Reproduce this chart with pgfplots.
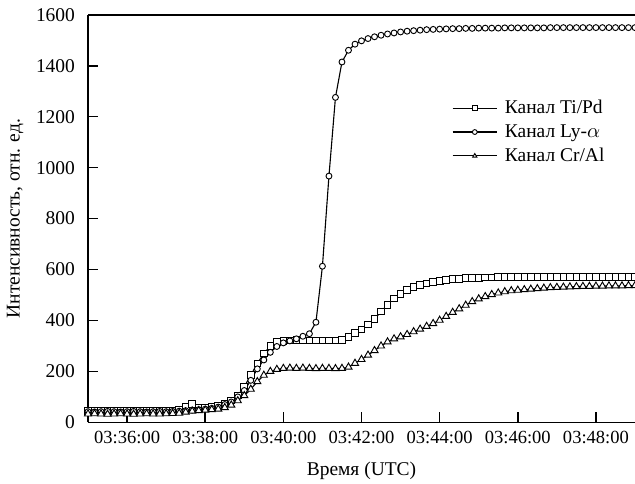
\documentclass[border=0pt]{standalone}
\usepackage{fontspec}
\setmainfont{Liberation Serif}
\usepackage{pgfplots}
\usepackage{pgfplotstable}
\pgfplotsset{compat=1.18}

\pgfplotstableread{
t tipd ly cral
0 45 42 33
10 44 41 34
20 46 42 33
30 45 43 32
40 44 42 33
50 46 41 34
60 45 42 33
70 44 43 32
80 45 42 33
90 46 41 34
100 45 42 33
110 44 43 33
120 45 42 34
130 46 43 35
140 50 44 36
150 62 46 40
160 72 48 44
170 56 50 46
180 58 52 48
190 62 55 50
200 66 60 52
210 74 70 58
220 86 80 68
230 105 100 85
240 140 125 105
250 185 165 130
260 231 210 160
270 270 245 185
280 300 275 200
290 315 298 208
300 320 312 212
310 322 320 213
320 323 328 212
330 322 338 213
340 321 348 212
350 322 393 211
360 322 613 212
370 321 967 212
380 322 1276 211
390 324 1415 212
400 335 1461 217
410 350 1485 232
420 365 1498 247
430 385 1507 264
440 405 1514 282
450 435 1520 300
460 462 1525 316
470 487 1529 328
480 505 1533 336
490 520 1536 345
500 532 1538 356
510 540 1540 366
520 546 1542 377
530 551 1543 388
540 556 1544 401
550 559 1545 416
560 562 1546 432
570 564 1546 446
580 566 1547 460
590 567 1547 474
600 568 1548 485
610 569 1548 494
620 569 1548 502
630 570 1548 508
640 570 1549 513
650 570 1549 517
660 571 1549 519
670 571 1549 521
680 571 1549 523
690 571 1549 525
700 571 1549 527
710 571 1550 529
720 571 1550 530
730 571 1550 531
740 571 1550 532
750 571 1550 533
760 571 1550 534
770 571 1550 534
780 571 1550 535
790 571 1550 535
800 571 1550 536
810 571 1550 536
820 571 1550 536
830 571 1550 537
840 571 1550 537
}\data

\begin{document}
\begin{tikzpicture}
\begin{axis}[
  scale only axis,
  width=294bp, height=219bp,
  xmin=0, xmax=840, ymin=0, ymax=1600,
  axis lines=left,
  axis line style={-, line width=0.8pt},
  tick align=inside,
  major tick length=5.4bp,
  tick style={line width=0.8pt, black},
  xtick={60,180,300,420,540,660,780},
  xticklabels={03:36:00,03:38:00,03:40:00,03:42:00,03:44:00,03:46:00,03:48:00},
  ytick={0,200,...,1600},
  /pgf/number format/assume math mode=true,
  /pgf/number format/1000 sep={},
  xticklabel style={font=\fontsize{10}{12}\selectfont, yshift=-1bp},
  yticklabel style={font=\fontsize{10.5}{12}\selectfont, xshift=-3.5bp},
  xlabel={Время (UTC)},
  ylabel={Интенсивность, отн. ед.},
  label style={font=\fontsize{10.5}{12}\selectfont},
  xlabel style={at={(axis description cs:0.5,-0.119)}, anchor=center},
  ylabel style={at={(axis description cs:-0.133,0.5)}, anchor=center, rotate=0},
  legend style={at={(axis cs:550,1140)}, anchor=west, draw=none, fill=none,
    font=\fontsize{10.5}{12}\selectfont, row sep=0.3bp,
    legend cell align=left,
    nodes={inner xsep=4bp}},
  legend image code/.code={\draw[mark repeat=2,mark phase=2,#1,mark size=1.3pt,line width=0.6pt] plot coordinates {(0cm,0cm) (0.42cm,0cm) (0.84cm,0cm)};},
  every axis plot/.append style={line width=0.6pt, black},
]
\addplot[mark=square*, mark size=1.8pt, mark options={fill=white, line width=0.5pt}] table[x=t, y=tipd] {\data};
\addlegendentry{Канал Ti/Pd}
\addplot[mark=*, mark size=1.6pt, mark options={fill=white, line width=0.5pt}] table[x=t, y=ly] {\data};
\addlegendentry{Канал Ly-$\alpha$}
\addplot[mark=triangle*, mark size=2.2pt, mark options={fill=white, line width=0.5pt}] table[x=t, y=cral] {\data};
\addlegendentry{Канал Cr/Al}
\draw[line width=0.8pt] (rel axis cs:0,1) -- (rel axis cs:1,1);
\coordinate (sw) at (rel axis cs:0,0);
\coordinate (ne) at (rel axis cs:1,1);
\end{axis}
\pgfresetboundingbox
\path[use as bounding box] ([xshift=-47.3bp,yshift=-32.8bp]sw) rectangle ([yshift=8bp]ne);
\end{tikzpicture}
\end{document}
